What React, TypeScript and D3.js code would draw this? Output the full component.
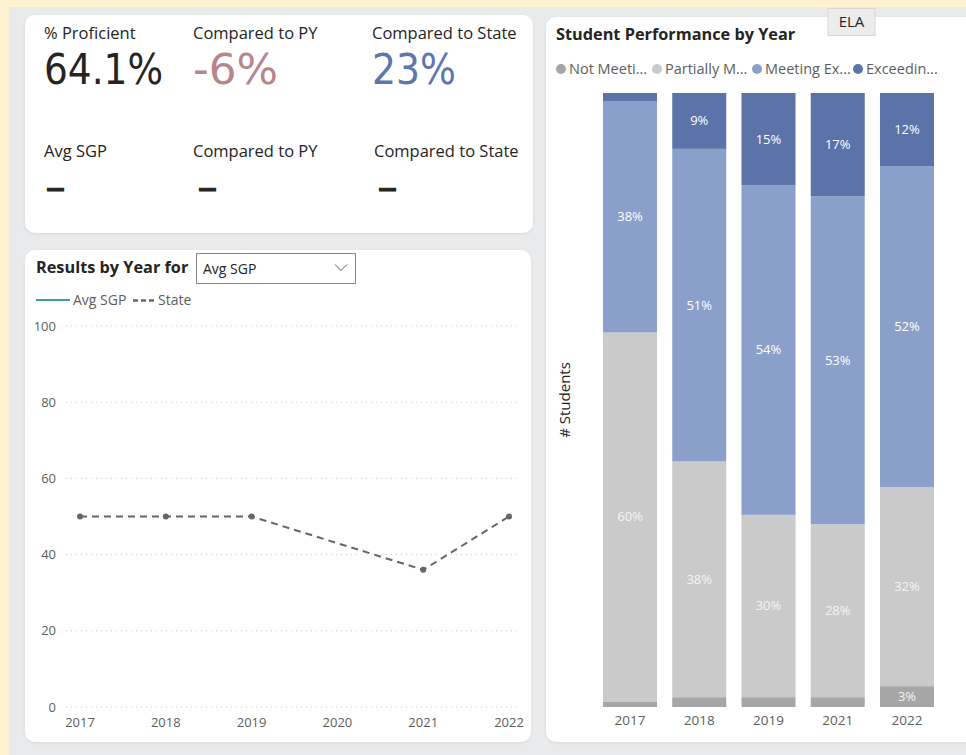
import React from "react";
import * as d3 from "d3";

const W = 966;
const H = 755;

// KPI card
const kpiTopLabels = ["% Proficient", "Compared to PY", "Compared to State"];
const kpiTopValues = ["64.1%", "-6%", "23%"];
const kpiTopColors = ["#252423", "#b8868a", "#5b77ae"];
const kpiBottomLabels = ["Avg SGP", "Compared to PY", "Compared to State"];
const kpiBottomValues = ["-", "-", "-"];

// Line chart
const lineTickYears = [2017, 2018, 2019, 2020, 2021, 2022];
const stateYears = [2017, 2018, 2019, 2021, 2022];
const stateValues = [50, 50, 50, 36, 50];
const lineYTicks = [0, 20, 40, 60, 80, 100];

// Stacked bar chart
const barYears = ["2017", "2018", "2019", "2021", "2022"];
const seriesKeys = ["notMeeting", "partially", "meeting", "exceeding"];
const legendLabels = ["Not Meeti...", "Partially M...", "Meeting Ex...", "Exceedin..."];
const notMeeting = [0.9, 1.6, 1.6, 1.6, 3.4];
const partiallyMeeting = [60.1, 38.4, 29.7, 28.2, 32.4];
const meetingExp = [37.7, 50.9, 53.7, 53.4, 52.3];
const exceedingExp = [1.3, 9.1, 15.0, 16.8, 11.9];
const seriesColors = ["#a6a6a6", "#cacaca", "#8aa0cb", "#5b73a8"];

const UI = "'Open Sans', 'Noto Sans', sans-serif";
const DIN = "'DejaVu Sans Condensed', 'DejaVu Sans', sans-serif";

export default function App() {
  // line chart scales
  const lx = d3.scaleLinear().domain([2017, 2022]).range([80, 509]);
  const ly = d3.scaleLinear().domain([0, 100]).range([707, 326]);
  const statePts = stateYears.map((y, i) => ({ year: y, v: stateValues[i] }));
  const linePath = d3
    .line<{ year: number; v: number }>()
    .x((d) => lx(d.year))
    .y((d) => ly(d.v))(statePts);

  // bar chart scales
  const bx = d3
    .scaleBand<string>()
    .domain(barYears)
    .range([595.4, 941.6])
    .paddingInner(0.22)
    .paddingOuter(0.11);
  const by = d3.scaleLinear().domain([0, 100]).range([707, 93]);
  const rows = barYears.map((yr, i) => ({
    year: yr,
    notMeeting: notMeeting[i],
    partially: partiallyMeeting[i],
    meeting: meetingExp[i],
    exceeding: exceedingExp[i],
  }));
  const stacked = d3.stack<any>().keys(seriesKeys)(rows);

  const kpiX1 = [44, 193, 372];
  const kpiX2 = [44, 193, 374];
  const kpiValueLen = [119, 85, 84];
  const dashX = [45, 197, 377];
  const legendX = [561, 657, 757, 858];

  return (
    <svg
      width={W}
      height={H}
      style={{ position: "absolute", left: 0, top: 0, display: "block" }}
    >
      <defs>
        <filter id="sh" x="-5%" y="-5%" width="110%" height="110%">
          <feDropShadow dx="0" dy="1" stdDeviation="1.5" floodColor="#000" floodOpacity="0.08" />
        </filter>
      </defs>
      {/* backgrounds */}
      <rect x={0} y={0} width={W} height={H} fill="#fff2d0" />
      <rect x={9} y={7} width={W - 9} height={H - 7} fill="#e9eaec" />

      {/* KPI card */}
      <rect x={25} y={15} width={508} height={218} rx={10} fill="#fff" filter="url(#sh)" />
      {kpiTopLabels.map((t, i) => (
        <text key={"tl" + i} x={kpiX1[i]} y={38.5} fontFamily={UI} fontSize={16.5} fill="#252423">
          {t}
        </text>
      ))}
      {kpiTopValues.map((t, i) => (
        <text
          key={"tv" + i}
          x={kpiX1[i]}
          y={84}
          fontFamily={DIN}
          fontStretch="condensed"
          fontSize={43}
          textLength={kpiValueLen[i]}
          lengthAdjust="spacingAndGlyphs"
          fill={kpiTopColors[i]}
        >
          {t}
        </text>
      ))}
      {kpiBottomLabels.map((t, i) => (
        <text key={"bl" + i} x={kpiX2[i]} y={157} fontFamily={UI} fontSize={16.5} fill="#252423">
          {t}
        </text>
      ))}
      {kpiBottomValues.map((t, i) => (
        <text
          key={"bv" + i}
          x={dashX[i]}
          y={198.5}
          fontFamily={DIN}
          fontSize={34}
          textLength={21}
          lengthAdjust="spacingAndGlyphs"
          fill="#252423"
          stroke="#252423"
          strokeWidth={1}
        >
          {t}
        </text>
      ))}

      {/* Line chart card */}
      <rect x={25} y={250} width={506} height={492} rx={10} fill="#fff" filter="url(#sh)" />
      <text x={36} y={273} fontFamily={UI} fontSize={16.3} fontWeight={700} fill="#252423">
        Results by Year for
      </text>
      <rect x={196.5} y={253.5} width={159} height={30} fill="#fff" stroke="#8a8886" />
      <text x={203} y={274} fontFamily={UI} fontSize={14} fill="#252423">
        Avg SGP
      </text>
      <path d="M335,264.5 L341,270.5 L347,264.5" fill="none" stroke="#605e5c" strokeWidth={1} />
      {/* legend */}
      <line x1={36} x2={70} y1={300} y2={300} stroke="#41a0a3" strokeWidth={2} />
      <text x={73} y={305} fontFamily={UI} fontSize={14} fill="#605e5c">
        Avg SGP
      </text>
      <line x1={133} x2={154} y1={300.5} y2={300.5} stroke="#666" strokeWidth={2.5} strokeDasharray="5,3" />
      <text x={158} y={305} fontFamily={UI} fontSize={14} fill="#605e5c">
        State
      </text>
      {/* grid + y ticks */}
      {lineYTicks.map((t) => (
        <g key={"g" + t}>
          <line
            x1={66}
            x2={520}
            y1={ly(t)}
            y2={ly(t)}
            stroke="#c8c8c8"
            strokeWidth={1}
            strokeDasharray="1,4"
          />
          <text
            x={56}
            y={ly(t) + 4.5}
            textAnchor="end"
            fontFamily={UI}
            fontSize={13}
            fill="#605e5c"
          >
            {t}
          </text>
        </g>
      ))}
      {lineTickYears.map((yr) => (
        <text
          key={"lx" + yr}
          x={lx(yr)}
          y={727}
          textAnchor="middle"
          fontFamily={UI}
          fontSize={13}
          fill="#605e5c"
        >
          {yr}
        </text>
      ))}
      <path d={linePath || ""} fill="none" stroke="#666" strokeWidth={2} strokeDasharray="7,5" />
      {statePts.map((p) => (
        <circle key={"sp" + p.year} cx={lx(p.year)} cy={ly(p.v)} r={3} fill="#666" />
      ))}

      {/* Bar chart card */}
      <rect x={546} y={17} width={430} height={725} rx={10} fill="#fff" filter="url(#sh)" />
      <text x={556} y={40} fontFamily={UI} fontSize={16.3} fontWeight={700} fill="#252423">
        Student Performance by Year
      </text>
      {legendLabels.map((l, i) => (
        <g key={"lg" + i}>
          <circle cx={legendX[i]} cy={69} r={5} fill={seriesColors[i]} />
          <text x={legendX[i] + 8} y={74} fontFamily={UI} fontSize={14.5} fill="#605e5c">
            {l}
          </text>
        </g>
      ))}
      <text
        transform="translate(570,400) rotate(-90)"
        textAnchor="middle"
        fontFamily={UI}
        fontSize={15}
        fill="#252423"
      >
        # Students
      </text>
      {stacked.map((s, si) => (
        <g key={"s" + si}>
          {s.map((d: any) => {
            const x = bx(d.data.year) as number;
            const y0 = by(d[1]);
            const y1 = by(d[0]);
            const v = d[1] - d[0];
            return (
              <g key={d.data.year}>
                <rect x={x} y={y0} width={bx.bandwidth()} height={y1 - y0} fill={seriesColors[si]} />
                {v >= 3 && (
                  <text
                    x={x + bx.bandwidth() / 2}
                    y={(y0 + y1) / 2 + 4.5}
                    textAnchor="middle"
                    fontFamily={UI}
                    fontSize={13}
                    fill={si <= 1 ? "#f4f4f4" : "#ffffff"}
                  >
                    {Math.round(v) + "%"}
                  </text>
                )}
              </g>
            );
          })}
        </g>
      ))}
      {barYears.map((yr) => (
        <text
          key={"bx" + yr}
          x={(bx(yr) as number) + bx.bandwidth() / 2}
          y={725}
          textAnchor="middle"
          fontFamily={UI}
          fontSize={13.5}
          fill="#605e5c"
        >
          {yr}
        </text>
      ))}

      {/* ELA tag */}
      <rect x={828} y={8.5} width={47} height={27} fill="#ececec" stroke="#d6d6d6" />
      <text x={851.5} y={27} textAnchor="middle" fontFamily={UI} fontSize={15} fill="#252423">
        ELA
      </text>
    </svg>
  );
}
